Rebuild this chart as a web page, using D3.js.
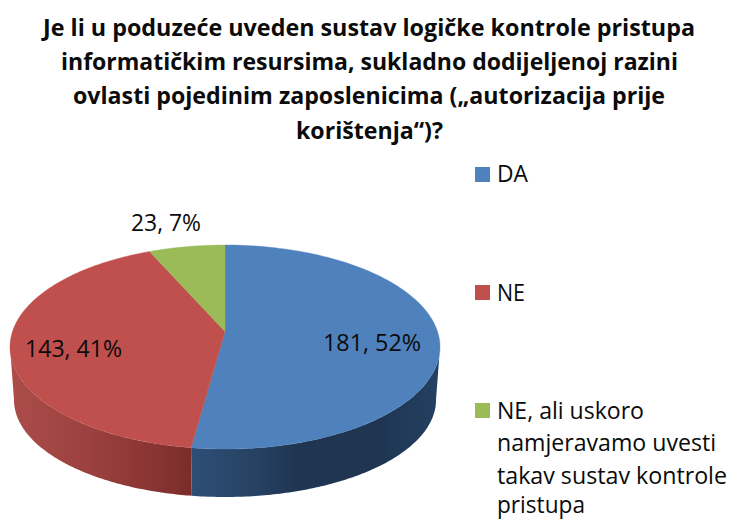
<!DOCTYPE html>
<html><head><meta charset="utf-8">
<script src="https://cdnjs.cloudflare.com/ajax/libs/d3/7.8.5/d3.min.js"></script>
<style>html,body{margin:0;padding:0;background:#fff}svg{display:block}text{font-family:"Open Sans","Noto Sans",sans-serif;fill:#0b0b0b}</style>
</head><body><script>
const categories = ["DA", "NE", "NE, ali uskoro namjeravamo uvesti takav sustav kontrole pristupa"];
const values = [181, 143, 23];
const percents = [52, 41, 7];
const titleLines = ["Je li u poduzeće uveden sustav logičke kontrole pristupa",
  "informatičkim resursima, sukladno dodijeljenoj razini",
  "ovlasti pojedinim zaposlenicima („autorizacija prije",
  "korištenja“)?"];
const legendLines = [["DA"], ["NE"], ["NE, ali uskoro", "namjeravamo uvesti", "takav sustav kontrole", "pristupa"]];
const colors = ["#4F81BD", "#C0504D", "#9BBB59"];

// layout (separate from data)
const W = 730, H = 519;
const titleLayout = [{x:43,w:652,y:36},{x:61,w:617,y:70},{x:73,w:592,y:104},{x:296,w:147,y:139}];
const labelLayout = [{x:323,w:98,y:351},{x:25,w:97,y:357},{x:131,w:70,y:231}];
const legendSwatchY = [167,285,403];
const legendTextLayout = [[{w:31,y:182}],[{w:28,y:301}],[{w:147,y:419},{w:219,y:451},{w:230,y:484},{w:88,y:513}]];
const topDisc = {cx:225, cy:347, rx:215, ry:102};
const bottomDisc = {cx:225, cy:400, rx:211, ry:97};
const tilt = -0.152;   // perspective shift of the pie centre

const svg = d3.select("body").append("svg").attr("width",W).attr("height",H);

const pie = d3.pie().sort(null).startAngle(0).endAngle(2*Math.PI);
const arcs = pie(values);

// perspective projection of a point of the pie circle onto a disc ellipse
function project(a, r, disc){
  const x = r*Math.sin(a), y = -r*Math.cos(a);
  const d = 1 + tilt*y;
  const X = x*Math.sqrt(1-tilt*tilt)/d, Y = (y+tilt)/d;
  const sx = d3.scaleLinear([-1,1],[disc.cx-disc.rx,disc.cx+disc.rx]);
  const sy = d3.scaleLinear([-1,1],[disc.cy-disc.ry,disc.cy+disc.ry]);
  return [sx(X), sy(Y)];
}
const samples = (a0,a1) => d3.range(0,121).map(i => a0+(a1-a0)*i/120);
const line = d3.line();

// gradients of the side wall
const defs = svg.append("defs");
const wallStops = [
  [[192,"#2E4E76"],[250,"#274364"],[300,"#1F3552"],[380,"#1F3552"],[435,"#234060"]],
  [[14,"#AB4C49"],[100,"#983F3D"],[150,"#8A3533"],[192,"#7A2D2B"]]
];
wallStops.forEach((st,i)=>{
  const g = defs.append("linearGradient").attr("id","wall"+i)
    .attr("gradientUnits","userSpaceOnUse").attr("x1",st[0][0]).attr("x2",st[st.length-1][0]).attr("y1",0).attr("y2",0);
  st.forEach(s=>g.append("stop").attr("offset",(s[0]-st[0][0])/(st[st.length-1][0]-st[0][0])).attr("stop-color",s[1]));
});

// side wall: only the part of the rim facing the viewer
const frontStart = Math.acos(tilt), frontEnd = 2*Math.PI - frontStart;
svg.append("g").selectAll("path").data(arcs.slice(0,2)).join("path")
  .attr("fill",(d,i)=>`url(#wall${i})`)
  .attr("d",d=>{
    const a0 = Math.max(d.startAngle,frontStart), a1 = Math.min(d.endAngle,frontEnd);
    const s = samples(a0,a1);
    const pts = s.map(a=>project(a,1,topDisc)).concat(s.slice().reverse().map(a=>project(a,1,bottomDisc)));
    return line(pts)+"Z";
  });

// top face
svg.append("g").selectAll("path").data(arcs).join("path")
  .attr("fill",(d,i)=>colors[i])
  .attr("stroke",(d,i)=>colors[i]).attr("stroke-width",0.4)
  .attr("d",d=>{
    const pts = [project(0,0,topDisc)].concat(samples(d.startAngle,d.endAngle).map(a=>project(a,1,topDisc)));
    return line(pts)+"Z";
  });

function fitted(sel,str,x,y,w,size,weight){
  sel.append("text").attr("x",x).attr("y",y).attr("font-size",size).attr("font-weight",weight)
    .attr("textLength",w).attr("lengthAdjust","spacingAndGlyphs").text(str);
}

// title
const tg = svg.append("g");
titleLines.forEach((t,i)=>fitted(tg,t,titleLayout[i].x,titleLayout[i].y,titleLayout[i].w,24,700));

// data labels
const lg = svg.append("g");
values.forEach((v,i)=>fitted(lg,`${v}, ${percents[i]}%`,labelLayout[i].x,labelLayout[i].y,labelLayout[i].w,23,400));

// legend
const leg = svg.append("g");
categories.forEach((c,i)=>{
  leg.append("rect").attr("x",475).attr("y",legendSwatchY[i]).attr("width",15).attr("height",15).attr("fill",colors[i]);
  legendLines[i].forEach((t,j)=>fitted(leg,t,497,legendTextLayout[i][j].y,legendTextLayout[i][j].w,23,400));
});
</script></body></html>
